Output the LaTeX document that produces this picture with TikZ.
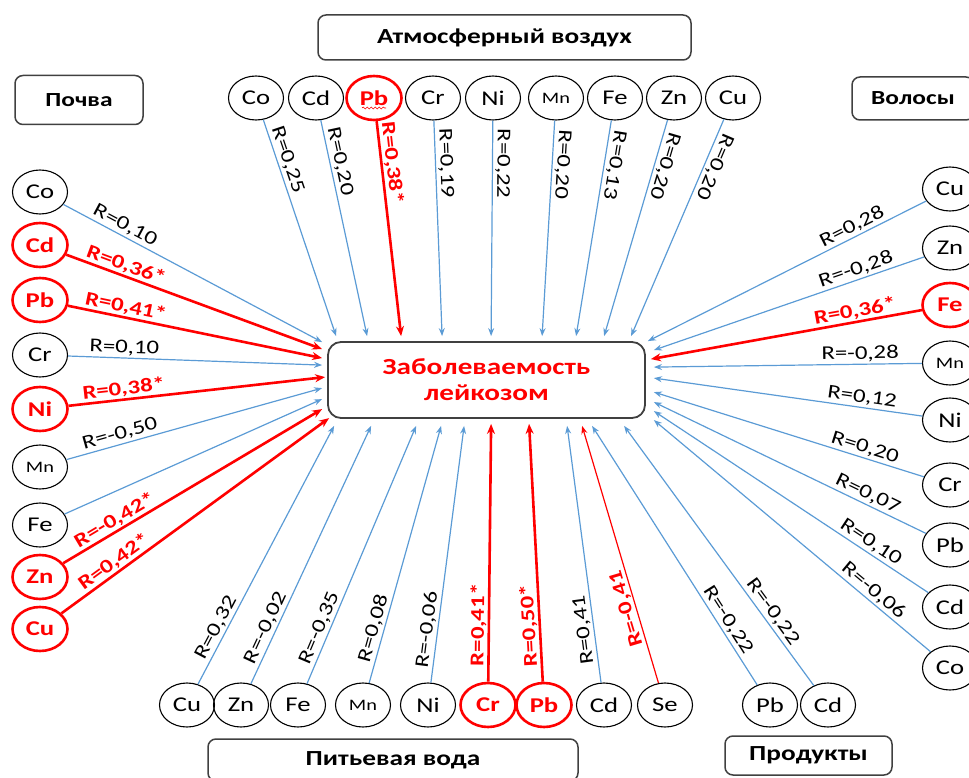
\documentclass[tikz,border=0pt]{standalone}
\usepackage{fontspec}
\setmainfont{Carlito}[FakeStretch=1.27]
\usetikzlibrary{positioning,shapes.geometric,arrows.meta,decorations.pathmorphing}
\definecolor{lineblue}{RGB}{91,155,213}
\definecolor{boxgray}{RGB}{64,64,64}

\begin{document}
\begin{tikzpicture}[x=1pt,y=-1pt]

        \tikzstyle{arrow} = [line width=1.2pt,lineblue,-{Stealth[length=8pt,width=6pt]}]
        \tikzstyle{sarrow} = [line width=2.6pt,red,-{Stealth[length=10pt,width=8pt]}]
        \tikzset{elem/.style = {ellipse, draw=black, line width=1.1pt, minimum width=55pt, minimum height=44pt, inner sep=0pt, font=\fontsize{21}{22}\selectfont}, }
        \tikzset{selem/.style = {elem, draw=red, line width=2.6pt, text=red, font=\fontsize{21}{22}\selectfont\bfseries}, }
        \tikzset{small/.style = {font=\fontsize{16}{17}\selectfont}, }
        \tikzset{group/.style = {rectangle, rounded corners=8pt, draw=boxgray, line width=1.5pt, font=\fontsize{21.5}{23}\selectfont\bfseries}, }
        \tikzset{rlab/.style = {sloped, above, inner sep=2pt, text=black, font=\fontsize{19.5}{20}\selectfont}, }
        \tikzset{srlab/.style = {rlab, text=red, inner sep=1pt, font=\fontsize{19.5}{20}\selectfont\bfseries}, }

        \useasboundingbox (0,0) rectangle (969,778);

        % target
        \node[draw=boxgray, line width=1.8pt, rounded corners=13pt, minimum width=317pt, minimum height=76pt,
              align=center, text=red, font=\fontsize{23}{26}\selectfont\bfseries] (zab) at (486.5,380) {Заболеваемость\\лейкозом};

        % groups
        \node[group, minimum width=373pt, minimum height=45pt] (atm) at (504.5,37.5) {Атмосферный воздух};
        \node[group, minimum width=128pt, minimum height=49pt, font=\fontsize{20}{22}\selectfont\bfseries] (soil) at (79,100) {Почва};
        \node[group, minimum width=122pt, minimum height=43pt, font=\fontsize{20}{22}\selectfont\bfseries] (hair) at (913,98.5) {Волосы};
        \node[group, minimum width=370pt, minimum height=42pt] (water) at (393,760) {Питьевая вода};
        \node[group, minimum width=167pt, minimum height=39pt] (food) at (808.5,755.5) {Продукты};

        % air
        \node[elem] (aCo) at (256,98) {Co};
        \node[elem] (aCd) at (316,98) {Cd};
        \node[selem] (aPb) at (374,98) {Pb};
        \node[elem] (aCr) at (433,98) {Cr};
        \node[elem] (aNi) at (493,98) {Ni};
        \node[elem, small] (aMn) at (556,98) {Mn};
        \node[elem] (aFe) at (615,98) {Fe};
        \node[elem] (aZn) at (674,98) {Zn};
        \node[elem] (aCu) at (733,98) {Cu};
        \draw[red, line width=0.6pt, decorate, decoration={snake, amplitude=1pt, segment length=4pt}]
              ([shift={(-12,10)}]aPb.center) -- ([shift={(12,10)}]aPb.center);

        % soil
        \node[elem] (sCo) at (40,192) {Co};
        \node[selem] (sCd) at (40,245) {Cd};
        \node[selem] (sPb) at (40,300) {Pb};
        \node[elem] (sCr) at (40,355) {Cr};
        \node[selem] (sNi) at (40,409) {Ni};
        \node[elem, small] (sMn) at (40,467) {Mn};
        \node[elem] (sFe) at (40,525) {Fe};
        \node[selem] (sZn) at (40,577) {Zn};
        \node[selem] (sCu) at (40,629) {Cu};

        % hair
        \node[elem] (hCu) at (950,189) {Cu};
        \node[elem] (hZn) at (950,248) {Zn};
        \node[selem] (hFe) at (950,305) {Fe};
        \node[elem, small] (hMn) at (950,363) {Mn};
        \node[elem] (hNi) at (950,420) {Ni};
        \node[elem] (hCr) at (950,485) {Cr};
        \node[elem] (hPb) at (950,545) {Pb};
        \node[elem] (hCd) at (950,607) {Cd};
        \node[elem] (hCo) at (950,668) {Co};

        % water
        \node[elem] (wCu) at (187,705) {Cu};
        \node[elem] (wZn) at (241,705) {Zn};
        \node[elem] (wFe) at (298,705) {Fe};
        \node[elem, small] (wMn) at (363,705) {Mn};
        \node[elem] (wNi) at (428,705) {Ni};
        \node[selem] (wCr) at (488,705) {Cr};
        \node[selem] (wPb) at (544,705) {Pb};
        \node[elem] (wCd) at (604,705) {Cd};
        \node[elem] (wSe) at (665,705) {Se};

        % food
        \node[elem] (fPb) at (770,705) {Pb};
        \node[elem] (fCd) at (828,705) {Cd};

        \draw[arrow] (aCo) -- node[rlab, pos=0.2, allow upside down] {R=0,25} ([shift={(9,-5)}]zab.north west);
        \draw[arrow] (aCd) -- node[rlab, pos=0.2, allow upside down] {R=0,20} ([shift={(40,-5)}]zab.north west);
        \draw[sarrow] (aPb) -- node[srlab, pos=0.2, allow upside down] {R=0,38*} ([shift={(74,-5)}]zab.north west);
        \draw[arrow] (aCr) -- node[rlab, pos=0.2, allow upside down] {R=0,19} ([shift={(115,-5)}]zab.north west);
        \draw[arrow] (aNi) -- node[rlab, pos=0.2, allow upside down] {R=0,22} ([shift={(164,-5)}]zab.north west);
        \draw[arrow] (aMn) -- node[rlab, pos=0.2, allow upside down] {R=0,20} ([shift={(215,-5)}]zab.north west);
        \draw[arrow] (aFe) -- node[rlab, pos=0.2, allow upside down] {R=0,13} ([shift={(249,-5)}]zab.north west);
        \draw[arrow] (aZn) -- node[rlab, pos=0.2, allow upside down] {R=0,20} ([shift={(277,-5)}]zab.north west);
        \draw[arrow] (aCu) -- node[rlab, pos=0.2, allow upside down] {R=0,20} ([shift={(304,-5)}]zab.north west);

        \draw[arrow] (sCo) -- node[rlab, pos=0.22] {R=0,10} ([shift={(-5,1)}]zab.north west);
        \draw[sarrow] (sCd) -- node[srlab, pos=0.22] {R=0,36*} ([shift={(-5,8)}]zab.north west);
        \draw[sarrow] (sPb) -- node[srlab, pos=0.22] {R=0,41*} ([shift={(-5,17)}]zab.north west);
        \draw[arrow] (sCr) -- node[rlab, pos=0.22] {R=0,10} ([shift={(-5,24)}]zab.north west);
        \draw[sarrow] (sNi) -- node[srlab, pos=0.22] {R=0,38*} ([shift={(-2,36)}]zab.north west);
        \draw[arrow] (sMn) -- node[rlab, pos=0.22] {R=-0,50} ([shift={(-5,47)}]zab.north west);
        \draw[arrow] (sFe) -- ([shift={(-5,58)}]zab.north west);
        \draw[sarrow] (sZn) -- node[srlab, pos=0.22] {R=-0,42*} ([shift={(-5,68)}]zab.north west);
        \draw[sarrow] (sCu) -- node[srlab, pos=0.22] {R=0,42*} ([shift={(2,77)}]zab.north west);

        \draw[arrow] (hCu) -- node[rlab, pos=0.25] {R=0,28} ([shift={(2,0)}]zab.north east);
        \draw[arrow] (hZn) -- node[rlab, pos=0.24] {R=-0,28} ([shift={(8,9)}]zab.north east);
        \draw[sarrow] (hFe) -- node[srlab, pos=0.24] {R=0,36*} ([shift={(5,18)}]zab.north east);
        \draw[arrow] (hMn) -- node[rlab, pos=0.23] {R=-0,28} ([shift={(8,26)}]zab.north east);
        \draw[arrow] (hNi) -- node[rlab, pos=0.23] {R=0,12} ([shift={(8,37)}]zab.north east);
        \draw[arrow] (hCr) -- node[rlab, pos=0.23] {R=0,20} ([shift={(8,51)}]zab.north east);
        \draw[arrow] (hPb) -- node[rlab, pos=0.23] {R=0,07} ([shift={(8,61)}]zab.north east);
        \draw[arrow] (hCd) -- node[rlab, pos=0.23] {R=0,10} ([shift={(8,70)}]zab.north east);
        \draw[arrow] (hCo) -- node[rlab, pos=0.23] {R=-0,06} ([shift={(8,79)}]zab.north east);

        \draw[arrow] (wCu) -- node[rlab, pos=0.2, allow upside down] {R=0,32} ([shift={(7,7)}]zab.south west);
        \draw[arrow] (wZn) -- node[rlab, pos=0.2, allow upside down] {R=-0,02} ([shift={(44,7)}]zab.south west);
        \draw[arrow] (wFe) -- node[rlab, pos=0.2, allow upside down] {R=-0,35} ([shift={(89,7)}]zab.south west);
        \draw[arrow] (wMn) -- node[rlab, pos=0.2, allow upside down] {R=0,08} ([shift={(114,7)}]zab.south west);
        \draw[arrow] (wNi) -- node[rlab, pos=0.2, allow upside down] {R=-0,06} ([shift={(137,7)}]zab.south west);
        \draw[sarrow] (wCr) -- node[srlab, pos=0.22, allow upside down] {R=0,41*} ([shift={(164,5)}]zab.south west);
        \draw[sarrow] (wPb) -- node[srlab, pos=0.22, allow upside down] {R=0,50*} ([shift={(202,5)}]zab.south west);
        \draw[arrow] (wCd) -- node[rlab, pos=0.21, allow upside down] {R=0,41} ([shift={(240,7)}]zab.south west);
        \draw[arrow, red] (wSe) -- node[srlab, pos=0.3, allow upside down] {R=-0,41} ([shift={(255,7)}]zab.south west);

        \draw[arrow] (fPb) -- node[rlab, pos=0.23] {R=-0,22} ([shift={(265,7)}]zab.south west);
        \draw[arrow] (fCd) -- node[rlab, pos=0.26] {R=-0,22} ([shift={(297,7)}]zab.south west);

\end{tikzpicture}
\end{document}
